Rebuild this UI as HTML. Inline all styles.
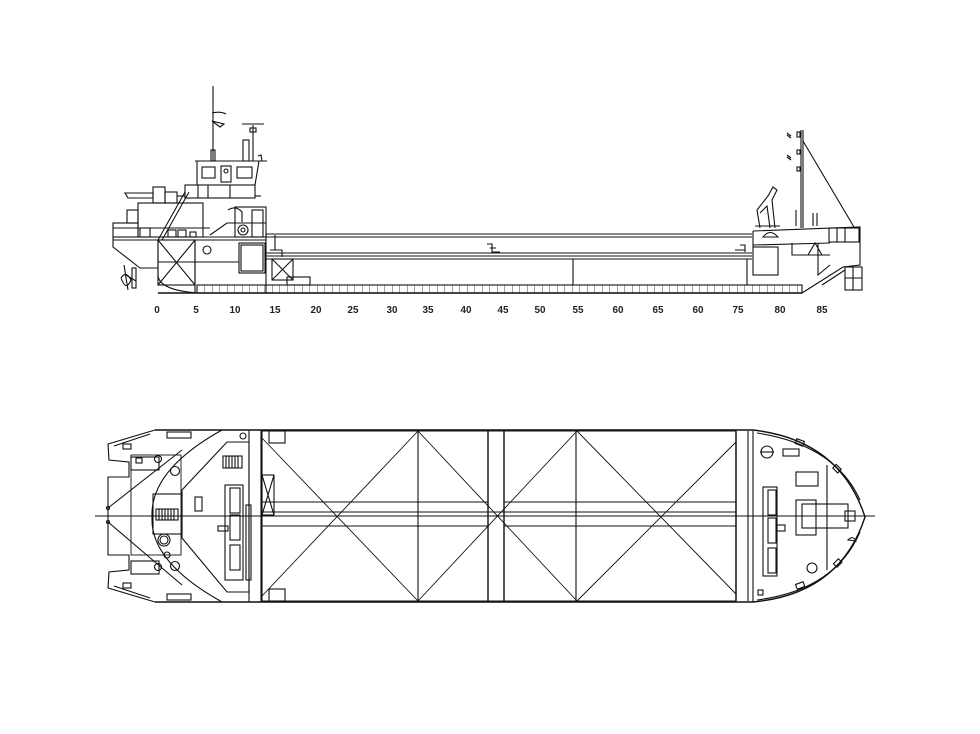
<!DOCTYPE html>
<html><head><meta charset="utf-8"><style>
html,body{margin:0;padding:0;background:#fff;}
svg{display:block;}
text{font-family:"Liberation Sans",sans-serif;font-size:10px;font-weight:bold;fill:#222;}
</style></head><body>
<svg width="980" height="734" viewBox="0 0 980 734" xmlns="http://www.w3.org/2000/svg">
<rect width="980" height="734" fill="#fff"/>
<defs>
<pattern id="grid" x="197" y="285" width="7.5" height="9" patternUnits="userSpaceOnUse">
<path d="M0 0V9" stroke="#333" stroke-width="0.9"/>
</pattern>
</defs>
<g fill="none" stroke="#111" stroke-width="1.1">
<!-- SIDE VIEW -->
<rect x="197" y="285" width="605" height="8" fill="url(#grid)" stroke="#111"/>
<line x1="158" y1="293" x2="802" y2="293" stroke-width="1.5"/>
<path d="M158 240 V276 Q160 290 197 293"/>
<path d="M113 237 V247 L140 268 H158"/>
<line x1="113" y1="237" x2="266" y2="237"/>
<line x1="113" y1="240" x2="266" y2="240"/>
<rect x="158" y="240" width="37" height="45"/>
<line x1="158" y1="240" x2="195" y2="285"/><line x1="195" y1="240" x2="158" y2="285"/>
<line x1="158" y1="262" x2="239" y2="262"/>
<line x1="195" y1="240" x2="195" y2="293"/>
<circle cx="207" cy="250" r="4"/>
<path d="M124 265 L128 290 M126 275 L136 281 M121 278 Q126 270 131 280 Q126 292 121 278"/>
<rect x="132" y="268" width="4" height="20"/>
<rect x="239" y="243" width="26" height="30"/>
<rect x="241" y="245" width="22" height="26"/>
<rect x="138" y="203" width="65" height="34"/>
<rect x="113" y="223" width="25" height="14"/>
<rect x="127" y="210" width="11" height="13"/>
<rect x="140" y="228" width="10" height="9"/>
<rect x="168" y="230" width="8" height="7"/><rect x="178" y="230" width="8" height="7"/><rect x="190" y="232" width="6" height="5"/>
<line x1="113" y1="228" x2="210" y2="228"/>
<path d="M158 240 L185 192 M162 240 L189 192"/>
<rect x="153" y="187" width="12" height="16"/>
<path d="M125 193 H153 V198 H128 Z"/>
<rect x="165" y="192" width="12" height="11"/>
<path d="M177 196 H185"/>
<rect x="185" y="185" width="70" height="13"/>
<line x1="198" y1="185" x2="198" y2="198"/><line x1="208" y1="185" x2="208" y2="198"/><line x1="230" y1="185" x2="230" y2="198"/>
<line x1="255" y1="196" x2="261" y2="196"/>
<path d="M197 161 V185 M195 161 H267 M259 161 L255 185"/>
<rect x="202" y="167" width="13" height="11"/>
<rect x="221" y="166" width="10" height="16"/><circle cx="226" cy="171" r="2"/>
<rect x="237" y="167" width="15" height="11"/>
<line x1="213" y1="86" x2="213" y2="161"/>
<rect x="211" y="150" width="4" height="11"/>
<path d="M212 121 L224 124 L220 127 Z M212 113 Q220 111 226 114"/>
<line x1="253" y1="125" x2="253" y2="161"/>
<path d="M242 124 H264"/><rect x="250" y="128" width="6" height="4"/>
<rect x="243" y="140" width="6" height="21"/>
<path d="M258 156 L261 155 L262 161"/>
<rect x="235" y="207" width="31" height="30"/>
<rect x="252" y="210" width="11" height="27"/>
<path d="M228 210 Q236 205 242 212 V222"/>
<circle cx="243" cy="230" r="5"/><circle cx="243" cy="230" r="2"/>
<path d="M210 235 L227 223 H266"/>
<line x1="266" y1="234" x2="752" y2="234"/>
<line x1="266" y1="237" x2="752" y2="237"/>
<line x1="266" y1="253" x2="752" y2="253"/>
<line x1="266" y1="256" x2="752" y2="256"/>
<line x1="266" y1="259" x2="752" y2="259"/>
<line x1="266" y1="234" x2="266" y2="293"/>
<line x1="573" y1="259" x2="573" y2="285"/>
<line x1="747" y1="259" x2="747" y2="285"/>
<path d="M275 235 V250 H282 V257 M270 250 H282"/>
<path d="M487 244 H492 V252 H500 M490 248 H496"/>
<path d="M740 245 H745 V252 M735 250 H745"/>
<rect x="272" y="259" width="21" height="21"/>
<line x1="272" y1="259" x2="293" y2="280"/><line x1="293" y1="259" x2="272" y2="280"/>
<rect x="287" y="277" width="23" height="8"/>
<path d="M753 231 L860 227 V265 L843 267 L802 293"/>
<line x1="753" y1="231" x2="753" y2="247"/>
<path d="M753 245 L830 243"/>
<rect x="753" y="247" width="25" height="28"/>
<path d="M792 243 V255 H830"/>
<rect x="845" y="267" width="17" height="23"/>
<line x1="845" y1="278" x2="862" y2="278"/><line x1="853" y1="267" x2="853" y2="290"/>
<rect x="829" y="228" width="30" height="14"/>
<line x1="837" y1="228" x2="837" y2="242"/><line x1="845" y1="228" x2="845" y2="242"/>
<path d="M818 243 V275 L830 265 M808 255 L815 243 L822 255"/>
<line x1="822" y1="285" x2="845" y2="270"/>
<path d="M760 228 L757 210 L768 196 L773 187 L777 190 L772 200 L775 228"/>
<path d="M760 213 L767 206 L770 228"/>
<path d="M763 237 Q770 228 778 237 Z"/>
<line x1="755" y1="226" x2="780" y2="226"/>
<line x1="801" y1="130" x2="801" y2="228"/><line x1="803" y1="130" x2="803" y2="228"/>
<line x1="803" y1="141" x2="854" y2="227"/>
<rect x="797" y="132" width="3" height="5"/><rect x="797" y="150" width="3" height="4"/><rect x="797" y="167" width="3" height="4"/>
<path d="M787 133 L791 136 M787 135 L791 138 M787 155 L791 158 M787 157 L791 160"/>
<line x1="796" y1="210" x2="796" y2="226"/><line x1="817" y1="213" x2="817" y2="226"/><line x1="813" y1="213" x2="813" y2="226"/>

<!-- PLAN VIEW -->
<line x1="95" y1="516" x2="875" y2="516" stroke-width="1"/>
<path d="M155 430 H753 Q840 440 865 517 Q840 594 753 602 H155" stroke-width="1.4"/>
<path d="M155 430 L108 444 L109 460 L129 462 V477 H108 V555 H129 V570 L109 572 L108 588 L155 602"/>
<path d="M114 446 L150 434 M114 586 L150 598"/>
<rect x="131" y="457" width="28" height="13"/>
<rect x="131" y="561" width="28" height="13"/>
<rect x="123" y="444" width="8" height="5"/><rect x="123" y="583" width="8" height="5"/>
<rect x="167" y="432" width="24" height="6"/><rect x="167" y="594" width="24" height="6"/>
<circle cx="243" cy="436" r="3"/>
<path d="M222 430 Q150 470 152 517 Q150 562 222 602"/>
<rect x="131" y="455" width="50" height="100" stroke-width="0.9"/>
<path d="M108 508 L182 450 M108 522 L182 585"/>
<circle cx="108" cy="508" r="1.5"/><circle cx="108" cy="522" r="1.5"/>
<circle cx="158" cy="459" r="3.5"/><circle cx="175" cy="471" r="4.5"/><circle cx="175" cy="566" r="4.5"/><circle cx="158" cy="567" r="3.5"/>
<rect x="136" y="458" width="6" height="5"/>
<rect x="153" y="494" width="29" height="40"/>
<rect x="156" y="509" width="22" height="11"/>
<path d="M159 509V520M162 509V520M165 509V520M168 509V520M171 509V520M174 509V520"/>
<circle cx="164" cy="540" r="6"/><circle cx="164" cy="540" r="4"/>
<circle cx="167" cy="555" r="3"/>
<path d="M227 442 H249 V592 H227 L182 538 V490 Z"/>
<rect x="223" y="456" width="19" height="12"/>
<path d="M226 456V468M229 456V468M232 456V468M235 456V468M238 456V468"/>
<rect x="195" y="497" width="7" height="14"/>
<rect x="225" y="485" width="18" height="95"/>
<rect x="230" y="488" width="10" height="25"/><rect x="230" y="515" width="10" height="25"/><rect x="230" y="545" width="10" height="25"/>
<rect x="218" y="526" width="10" height="5"/>
<rect x="246" y="505" width="5" height="75"/>
<line x1="249" y1="430" x2="249" y2="602"/><line x1="261" y1="430" x2="261" y2="602"/>
<line x1="262" y1="430" x2="262" y2="602"/>
<rect x="269" y="431" width="16" height="12"/><rect x="269" y="589" width="16" height="12"/>
<rect x="262" y="475" width="12" height="40"/>
<line x1="262" y1="475" x2="274" y2="515"/><line x1="274" y1="475" x2="262" y2="515"/>
<line x1="262" y1="431" x2="736" y2="431"/><line x1="262" y1="601" x2="736" y2="601"/>
<line x1="418" y1="431" x2="418" y2="601"/><line x1="576" y1="431" x2="576" y2="601"/>
<line x1="488" y1="431" x2="488" y2="601" stroke-width="1.4"/><line x1="504" y1="431" x2="504" y2="601" stroke-width="1.4"/>
<line x1="736" y1="431" x2="736" y2="601" stroke-width="1.5"/><line x1="748" y1="431" x2="748" y2="601"/>
<line x1="753" y1="431" x2="753" y2="602"/>
<g stroke-width="0.9">
<line x1="262" y1="438" x2="418" y2="601"/><line x1="262" y1="596" x2="418" y2="431"/>
<line x1="418" y1="431" x2="577" y2="601"/><line x1="418" y1="601" x2="577" y2="431"/>
<line x1="577" y1="431" x2="736" y2="594"/><line x1="577" y1="601" x2="736" y2="442"/>
<line x1="262" y1="502" x2="488" y2="502"/><line x1="504" y1="502" x2="736" y2="502"/>
<line x1="262" y1="512" x2="736" y2="512"/>
<line x1="262" y1="526" x2="488" y2="526"/><line x1="504" y1="526" x2="736" y2="526"/>
</g>
<path d="M757 433 Q835 445 860 500 M757 600 Q835 590 860 532"/>
<circle cx="767" cy="452" r="6"/><line x1="760" y1="452" x2="774" y2="452"/>
<rect x="783" y="449" width="16" height="7"/>
<rect x="796" y="472" width="22" height="14"/>
<line x1="827" y1="465" x2="827" y2="570"/>
<rect x="763" y="487" width="14" height="89"/>
<rect x="768" y="490" width="8" height="25"/><rect x="768" y="518" width="8" height="25"/><rect x="768" y="548" width="8" height="25"/>
<rect x="777" y="525" width="8" height="6"/>
<rect x="796" y="500" width="20" height="35"/>
<rect x="802" y="504" width="46" height="24"/>
<rect x="845" y="511" width="10" height="10"/>
<circle cx="812" cy="568" r="5"/>
<rect x="758" y="590" width="5" height="5"/>
<rect x="796" y="440" width="8" height="5" transform="rotate(20 800 442)"/>
<rect x="834" y="466" width="7" height="5" transform="rotate(45 837 468)"/>
<rect x="834" y="561" width="7" height="5" transform="rotate(-45 837 563)"/>
<rect x="796" y="583" width="8" height="5" transform="rotate(-20 800 585)"/>
<path d="M848 540 Q853 535 856 541 Z"/>
</g>
<g text-anchor="middle">
<text x="157" y="313" transform="scale(1,1)">0</text>
<g transform="translate(0,0)">
<text x="196" y="313">5</text><text x="235" y="313" textLength="11" lengthAdjust="spacingAndGlyphs">10</text>
<text x="275" y="313" textLength="11" lengthAdjust="spacingAndGlyphs">15</text><text x="316" y="313" textLength="11" lengthAdjust="spacingAndGlyphs">20</text><text x="353" y="313" textLength="11" lengthAdjust="spacingAndGlyphs">25</text>
<text x="392" y="313" textLength="11" lengthAdjust="spacingAndGlyphs">30</text><text x="428" y="313" textLength="11" lengthAdjust="spacingAndGlyphs">35</text><text x="466" y="313" textLength="11" lengthAdjust="spacingAndGlyphs">40</text>
<text x="503" y="313" textLength="11" lengthAdjust="spacingAndGlyphs">45</text><text x="540" y="313" textLength="11" lengthAdjust="spacingAndGlyphs">50</text><text x="578" y="313" textLength="11" lengthAdjust="spacingAndGlyphs">55</text>
<text x="618" y="313" textLength="11" lengthAdjust="spacingAndGlyphs">60</text><text x="658" y="313" textLength="11" lengthAdjust="spacingAndGlyphs">65</text><text x="698" y="313" textLength="11" lengthAdjust="spacingAndGlyphs">60</text>
<text x="738" y="313" textLength="11" lengthAdjust="spacingAndGlyphs">75</text><text x="780" y="313" textLength="11" lengthAdjust="spacingAndGlyphs">80</text><text x="822" y="313" textLength="11" lengthAdjust="spacingAndGlyphs">85</text>
</g>
</g>
</svg>
</body></html>
